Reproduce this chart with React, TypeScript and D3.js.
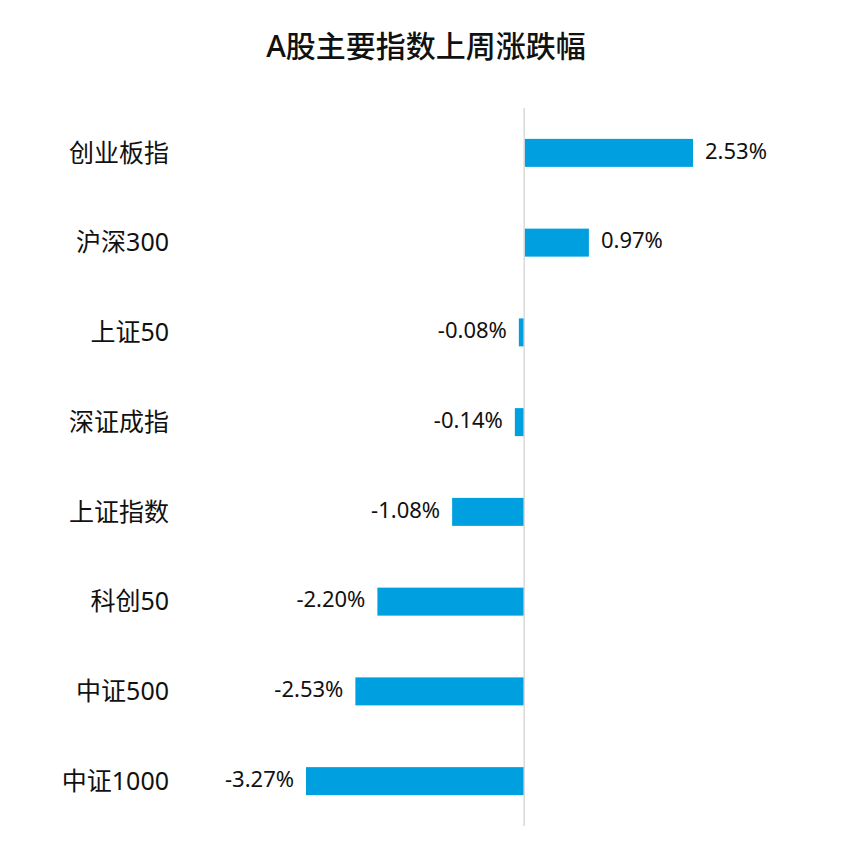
import React, { useEffect, useRef } from 'react';
import * as d3 from 'd3';

const categories = ['创业板指', '沪深300', '上证50', '深证成指', '上证指数', '科创50', '中证500', '中证1000'];
const changes = [2.53, 0.97, -0.08, -0.14, -1.08, -2.2, -2.53, -3.27];
const title = 'A股主要指数上周涨跌幅';

const App: React.FC = () => {
  const svgRef = useRef<SVGSVGElement>(null);

  useEffect(() => {
    if (!svgRef.current) return;
    const svg = d3.select(svgRef.current);
    svg.selectAll('*').remove();

    const font = '"Noto Sans", "Noto Sans CJK SC", sans-serif';
    const data = categories.map((c, i) => ({ name: c, value: changes[i] }));

    const x = d3.scaleLinear().domain([-3.27, 2.53]).range([306, 693]);
    const y = d3
      .scaleBand()
      .domain(categories)
      .range([108, 826])
      .padding(0);
    const barH = 28;

    svg
      .append('text')
      .attr('x', 426)
      .attr('y', 57)
      .attr('text-anchor', 'middle')
      .attr('font-family', font)
      .attr('font-size', 30)
      .attr('font-weight', 500)
      .attr('fill', '#111')
      .text(title);

    const g = svg.append('g');

    g.selectAll('.bar')
      .data(data)
      .enter()
      .append('rect')
      .attr('class', 'bar')
      .attr('x', (d) => Math.min(x(0), x(d.value)))
      .attr('y', (d) => (y(d.name) || 0) + y.bandwidth() / 2 - barH / 2)
      .attr('width', (d) => Math.abs(x(d.value) - x(0)))
      .attr('height', barH)
      .attr('fill', '#00A0E0');

    // zero line
    g.append('line')
      .attr('x1', x(0))
      .attr('x2', x(0))
      .attr('y1', 108)
      .attr('y2', 826)
      .attr('stroke', '#d9d9d9')
      .attr('stroke-width', 1.5);

    g.selectAll('.cat')
      .data(data)
      .enter()
      .append('text')
      .attr('class', 'cat')
      .attr('x', 169)
      .attr('y', (d) => (y(d.name) || 0) + y.bandwidth() / 2)
      .attr('dy', '0.35em')
      .attr('text-anchor', 'end')
      .attr('font-family', font)
      .attr('font-size', 25)
      .attr('fill', '#111')
      .text((d) => d.name);

    g.selectAll('.val')
      .data(data)
      .enter()
      .append('text')
      .attr('class', 'val')
      .attr('x', (d) => (d.value >= 0 ? x(d.value) + 12 : x(d.value) - 12))
      .attr('y', (d) => (y(d.name) || 0) + y.bandwidth() / 2 - 2)
      .attr('dy', '0.35em')
      .attr('text-anchor', (d) => (d.value >= 0 ? 'start' : 'end'))
      .attr('font-family', font)
      .attr('font-size', 22)
      .attr('fill', '#111')
      .text((d) => `${d.value.toFixed(2)}%`);
  }, []);

  return <svg ref={svgRef} width={853} height={853} style={{ position: 'absolute', left: 0, top: 0 }} />;
};

export default App;
